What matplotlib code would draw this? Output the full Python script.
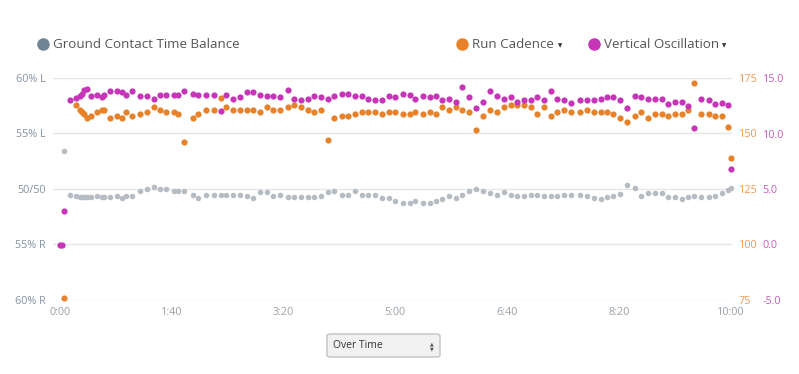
import numpy as np
import matplotlib.pyplot as plt
from matplotlib.lines import Line2D
from matplotlib.patches import FancyBboxPatch

nan = np.nan

# sample times in seconds
t_sec = [0, 2, 4, 9, 15, 18, 20, 22, 24, 28, 33, 38, 40, 45, 51, 56, 59, 65, 72, 78,
         84, 90, 95, 102, 106, 111, 119, 124, 131, 138, 144, 149, 155, 161, 167, 173, 179, 185, 191, 197,
         204, 209, 216, 222, 227, 234, 240, 245, 252, 258, 264, 270, 276, 282, 288, 294, 300, 307, 313, 318,
         325, 331, 336, 342, 348, 354, 360, 366, 372, 378, 385, 391, 397, 403, 409, 415, 421, 427, 433, 439,
         445, 451, 457, 465, 471, 478, 484, 489, 495, 501, 507, 514, 520, 526, 532, 538, 544, 550, 556, 562,
         567, 573, 580, 586, 592, 597, 600]

# ground contact time balance, % left
gct_balance = [nan, nan, 53.4, 49.5, 49.4, 49.3, 49.3, 49.3, 49.3, 49.3, 49.4, 49.3, 49.3, 49.3, 49.4, 49.2, 49.4, 49.4, 49.8, 50.0,
               50.2, 50.0, 50.0, 49.8, 49.8, 49.8, 49.5, 49.2, 49.5, 49.5, 49.5, 49.5, 49.5, 49.5, 49.4, 49.2, 49.7, 49.7, 49.4, 49.5,
               49.25, 49.25, 49.25, 49.25, 49.25, 49.4, 49.7, 49.8, 49.5, 49.5, 49.8, 49.5, 49.5, 49.5, 49.2, 49.2, 48.9, 48.7, 48.7, 48.9,
               48.7, 48.7, 48.9, 49.1, 49.4, 49.2, 49.5, 49.85, 50.0, 49.85, 49.6, 49.5, 49.7, 49.5, 49.4, 49.4, 49.5, 49.5, 49.4, 49.4,
               49.4, 49.5, 49.5, 49.5, 49.4, 49.2, 49.1, 49.3, 49.4, 49.55, 50.35, 50.05, 49.4, 49.6, 49.6, 49.6, 49.3, 49.3, 49.1, 49.3,
               49.4, 49.25, 49.3, 49.4, 49.6, 49.9, 50.05]

# run cadence, spm
cadence = [nan, nan, 76.0, nan, 162.9, 160.8, 159.9, 159.0, 157.0, 158.0, 159.9, 160.8, 160.8, 156.9, 158.0, 156.9, 159.9, 158.0, 159.0, 159.9,
           161.9, 160.8, 159.9, 159.9, 159.0, 146.0, 156.9, 159.0, 160.8, 160.8, 165.8, 161.9, 160.8, 160.8, 160.8, 160.8, 159.9, 161.9, 160.8, 160.8,
           161.9, 162.9, 161.9, 160.8, 159.8, 160.8, 146.9, 156.9, 158.0, 158.0, 159.0, 159.9, 159.9, 159.9, 159.0, 159.9, 159.9, 159.0, 159.0, 159.9,
           159.0, 159.9, 159.0, 161.9, 160.8, 161.9, 160.8, 159.9, 151.8, 157.8, 160.8, 159.9, 161.9, 162.9, 162.9, 162.9, 161.9, 159.0, 161.9, 157.8,
           159.9, 160.8, 159.9, 159.9, 160.8, 159.9, 159.9, 159.9, 159.0, 156.9, 155.0, 158.0, 159.9, 156.9, 159.0, 159.0, 158.0, 159.0, 159.0, 160.8,
           172.8, 159.0, 159.0, 158.0, 158.0, 152.9, 138.9]

# vertical oscillation, cm
vert_osc = [0.0, 0.0, 3.0, 13.0, 13.2, 13.4, 13.6, 13.9, 14.0, 13.4, 13.5, 13.3, 13.5, 13.8, 13.8, 13.7, 13.5, 13.8, 13.4, 13.4,
            13.1, 13.5, 13.5, 13.5, 13.5, 13.8, 13.6, 13.5, 13.5, 13.5, 12.0, 13.5, 13.1, 13.3, 13.7, 13.7, 13.5, 13.4, 13.4, 13.3,
            13.9, 13.1, 13.0, 13.1, 13.4, 13.3, 13.1, 13.4, 13.6, 13.6, 13.4, 13.4, 13.1, 13.0, 13.0, 13.4, 13.3, 13.6, 13.5, 13.1,
            13.4, 13.3, 13.4, 13.0, 13.1, 12.8, 14.2, 13.3, 12.3, 12.8, 13.8, 13.4, 13.1, 13.3, 12.8, 13.0, 13.0, 13.3, 13.0, 13.8,
            13.1, 13.0, 12.75, 13.0, 13.05, 13.05, 13.1, 13.3, 13.3, 13.0, 12.3, 13.4, 13.3, 13.1, 13.1, 13.1, 12.7, 12.8, 12.8, 12.5,
            10.5, 13.1, 13.0, 12.7, 12.75, 12.6, 6.8]

gct_ticks = [40, 45, 50, 55, 60]
gct_labels = ['60% R', '55% R', '50/50', '55% L', '60% L']
cad_ticks = [75, 100, 125, 150, 175]
vo_ticks = [-5, 0, 5, 10, 15]
vo_labels = ['-5.0', '0.0', '5.0', '10.0', '15.0']
x_ticks = [0, 100, 200, 300, 400, 500, 600]
x_labels = ['%d:%02d' % (s // 60, s % 60) for s in x_ticks]

GRAY = '#b5bcc3'
ORANGE = '#e8822a'
MAGENTA = '#c634b8'

plt.rcParams['font.family'] = ['Open Sans', 'DejaVu Sans']

fig = plt.figure(figsize=(7.99, 3.74), dpi=100)
ax = fig.add_axes([53 / 799, 1 - 300 / 374, 679 / 799, 222 / 374])
ax2 = ax.twinx()
ax3 = ax.twinx()

for a in (ax, ax2, ax3):
    for sp in a.spines.values():
        sp.set_visible(False)

ax.set_xlim(-6, 601)
ax.set_ylim(40, 60)
ax2.set_ylim(75, 175)
ax3.set_ylim(-5, 15)

ax.set_yticks(gct_ticks)
ax.set_yticklabels(gct_labels)
ax.set_xticks(x_ticks)
ax.set_xticklabels(x_labels)
ax2.set_yticks(cad_ticks)
ax3.set_yticks(vo_ticks)
ax3.set_yticklabels(vo_labels)

ax.grid(axis='y', color='#e6e6e6', lw=1)
ax.set_axisbelow(True)

ax.tick_params(axis='y', length=0, pad=5, labelcolor='#8494a3', labelsize=7.8)
ax.tick_params(axis='x', length=0, pad=5, labelcolor='#98a1a9', labelsize=7.8)
ax2.tick_params(axis='y', length=0, pad=5, labelcolor='#ee9a55', labelsize=7.8)
ax3.tick_params(axis='y', length=0, pad=22, labelcolor='#c95bc0', labelsize=7.8)

ax.scatter(t_sec, gct_balance, s=16, color=GRAY, linewidths=0, clip_on=False)
ax2.scatter(t_sec, cadence, s=20, color=ORANGE, linewidths=0, clip_on=False)
ax3.scatter(t_sec, vert_osc, s=20, color=MAGENTA, linewidths=0, clip_on=False)

# legend row
legend_items = [(43, '#6d8596', 'Ground Contact Time Balance', None),
                (462, ORANGE, 'Run Cadence', 560),
                (594, MAGENTA, 'Vertical Oscillation', 724)]
ly = 1 - 44 / 374
for px, col, label, arrow_x in legend_items:
    fig.add_artist(Line2D([px / 799], [ly], marker='o', ms=9, color=col, mec='none',
                          transform=fig.transFigure))
    fig.text((px + 10) / 799, ly, label, fontsize=9.6, color='#555555',
             va='center', ha='left')
    if arrow_x:
        fig.text(arrow_x / 799, 1 - 46 / 374, '\u25bc', fontsize=4, color='#333333',
                 va='center', ha='center', family=['DejaVu Sans'])

# dropdown box
box = FancyBboxPatch((327 / 799, 1 - 357 / 374), 113 / 799, 23 / 374,
                     boxstyle='round,pad=0,rounding_size=0.005', transform=fig.transFigure,
                     fc='#f1f1f1', ec='#c2c2c2', lw=1)
fig.add_artist(box)
fig.text(333 / 799, 1 - 346 / 374, 'Over Time', fontsize=7.5, color='#333333', va='center')
fig.text(432 / 799, 1 - 343.5 / 374, '\u25b2', fontsize=3.5, color='#555555', va='center',
         ha='center', family=['DejaVu Sans'])
fig.text(432 / 799, 1 - 348.5 / 374, '\u25bc', fontsize=3.5, color='#555555', va='center',
         ha='center', family=['DejaVu Sans'])

fig.savefig('out.png', dpi=100)
